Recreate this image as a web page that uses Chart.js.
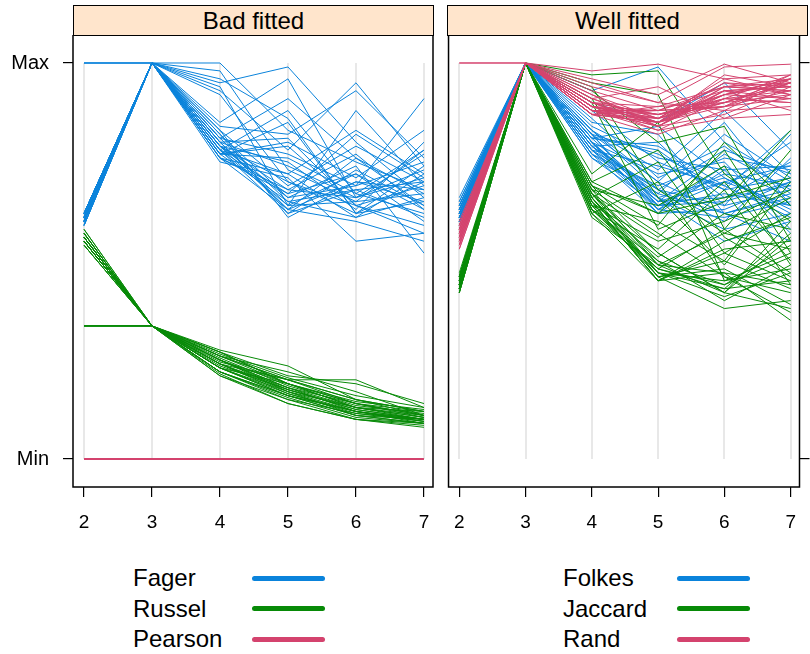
<!DOCTYPE html>
<html>
<head>
<meta charset="utf-8">
<script src="https://cdn.jsdelivr.net/npm/chart.js@4/dist/chart.umd.min.js"></script>
<style>
  html, body { margin: 0; padding: 0; background: #fff; }
  body { width: 810px; height: 654px; position: relative; overflow: hidden; font-family: "Liberation Sans", Arial, sans-serif; }
  .strip { position: absolute; top: 5px; width: 359px; height: 29px; background: #ffe5cc; border: 1.5px solid #000; text-align: center; font-size: 24px; line-height: 30px; color: #000; }
  .panel { position: absolute; top: 35px; }
  .key { position: absolute; font-size: 24px; line-height: 24px; color: #000; }
  .swatch { position: absolute; height: 5px; width: 73px; border-radius: 3px; }
</style>
</head>
<body>
<div class="strip" style="left:73px">Bad fitted</div>
<div class="strip" style="left:447px">Well fitted</div>
<div class="panel" style="left:0px"><canvas id="chartBad" width="445" height="515"></canvas></div>
<div class="panel" style="left:440px"><canvas id="chartWell" width="370" height="515"></canvas></div>
<div id="legend"></div>

<script>
// Parallel coordinates: scaled index value per number of clusters (2..7)
const clusterCounts = [2, 3, 4, 5, 6, 7];
const yTickValues = [0, 1];
const yTickLabels = ['Min', 'Max'];

const fager = [
  [1, 1, 1, 0.83, 0.75, 0.68],
  [1, 1, 0.98, 0.73, 0.65, 0.78],
  [1, 1, 0.96, 0.86, 0.62, 0.70],
  [0.62, 1, 0.95, 0.99, 0.80, 0.66],
  [0.61, 1, 0.94, 0.64, 0.72, 0.60],
  [0.60, 1, 0.93, 0.78, 0.95, 0.74],
  [0.62, 1, 0.92, 0.70, 0.64, 0.57],
  [0.59, 1, 0.85, 0.96, 0.66, 0.71],
  [0.61, 1, 0.84, 0.82, 0.93, 0.76],
  [0.60, 1, 0.82, 0.66, 0.69, 0.91],
  [0.62, 1, 0.81, 0.91, 0.76, 0.64],
  [0.61, 1, 0.80, 0.64, 0.88, 0.69],
  [0.60, 1, 0.79, 0.75, 0.63, 0.80],
  [0.59, 1, 0.79, 0.63, 0.70, 0.68],
  [0.62, 1, 0.78, 0.88, 0.67, 0.62],
  [0.61, 1, 0.78, 0.72, 0.83, 0.72],
  [0.60, 1, 0.77, 0.65, 0.61, 0.66],
  [0.61, 1, 0.77, 0.80, 0.71, 0.83],
  [0.62, 1, 0.76, 0.68, 0.77, 0.63],
  [0.60, 1, 0.76, 0.63, 0.60, 0.55],
  [0.59, 1, 0.80, 0.74, 0.66, 0.73],
  [0.61, 1, 0.78, 0.62, 0.68, 0.61],
  [0.60, 1, 0.83, 0.69, 0.79, 0.70],
  [0.62, 1, 0.77, 0.85, 0.62, 0.65],
  [0.61, 1, 0.79, 0.66, 0.74, 0.52],
  [0.60, 1, 0.75, 0.71, 0.55, 0.57],
  [0.59, 1, 0.81, 0.77, 0.69, 0.75],
  [0.61, 1, 0.78, 0.64, 0.65, 0.67],
  [0.62, 1, 0.76, 0.67, 0.82, 0.71],
  [0.60, 1, 0.80, 0.81, 0.64, 0.69],
  [0.61, 1, 0.82, 0.62, 0.73, 0.64],
  [0.60, 1, 0.77, 0.76, 0.67, 0.78],
  [0.61, 1, 0.79, 0.70, 0.62, 0.74],
  [0.60, 1, 0.78, 0.67, 0.72, 0.63],
  [0.62, 1, 0.81, 0.65, 0.68, 0.70],
  [0.61, 1, 0.77, 0.79, 0.64, 0.59],
  [0.59, 1, 0.80, 0.63, 0.76, 0.67],
  [0.60, 1, 0.76, 0.72, 0.61, 0.72],
  [0.62, 1, 0.83, 0.61, 0.70, 0.65],
  [0.61, 1, 0.79, 0.68, 0.66, 0.77]
];

const russel = [
  [0.336, 0.336, 0.27, 0.19, 0.14, 0.11],
  [0.336, 0.336, 0.25, 0.17, 0.12, 0.10],
  [0.336, 0.336, 0.23, 0.16, 0.11, 0.09],
  [0.336, 0.336, 0.26, 0.20, 0.15, 0.12],
  [0.336, 0.336, 0.24, 0.175, 0.125, 0.10],
  [0.58, 0.336, 0.275, 0.235, 0.15, 0.12],
  [0.57, 0.336, 0.27, 0.21, 0.19, 0.14],
  [0.57, 0.336, 0.26, 0.20, 0.20, 0.13],
  [0.56, 0.336, 0.26, 0.22, 0.17, 0.11],
  [0.56, 0.336, 0.25, 0.19, 0.13, 0.10],
  [0.56, 0.336, 0.25, 0.18, 0.14, 0.12],
  [0.55, 0.336, 0.24, 0.18, 0.12, 0.09],
  [0.55, 0.336, 0.24, 0.17, 0.13, 0.11],
  [0.55, 0.336, 0.23, 0.17, 0.11, 0.10],
  [0.56, 0.336, 0.23, 0.16, 0.12, 0.095],
  [0.55, 0.336, 0.22, 0.16, 0.11, 0.09],
  [0.54, 0.336, 0.22, 0.15, 0.10, 0.085],
  [0.55, 0.336, 0.215, 0.14, 0.10, 0.08],
  [0.54, 0.336, 0.21, 0.14, 0.10, 0.09],
  [0.56, 0.336, 0.245, 0.20, 0.14, 0.105],
  [0.55, 0.336, 0.235, 0.175, 0.125, 0.10],
  [0.57, 0.336, 0.255, 0.185, 0.135, 0.115],
  [0.56, 0.336, 0.24, 0.165, 0.115, 0.10],
  [0.54, 0.336, 0.22, 0.155, 0.105, 0.09],
  [0.55, 0.336, 0.23, 0.19, 0.13, 0.12],
  [0.56, 0.336, 0.265, 0.205, 0.16, 0.13],
  [0.55, 0.336, 0.21, 0.15, 0.115, 0.095],
  [0.57, 0.336, 0.25, 0.175, 0.13, 0.105],
  [0.56, 0.336, 0.24, 0.20, 0.15, 0.11],
  [0.55, 0.336, 0.22, 0.16, 0.12, 0.10],
  [0.58, 0.336, 0.27, 0.19, 0.145, 0.125],
  [0.56, 0.336, 0.25, 0.18, 0.13, 0.105],
  [0.55, 0.336, 0.23, 0.165, 0.12, 0.095],
  [0.57, 0.336, 0.26, 0.19, 0.14, 0.11]
];

const pearson = [
  [0, 0, 0, 0, 0, 0]
];

const folkes = [
  [0.66, 1, 0.93, 0.99, 0.80, 0.70],
  [0.65, 1, 0.90, 0.85, 0.95, 0.78],
  [0.64, 1, 0.88, 0.75, 0.68, 0.83],
  [0.64, 1, 0.85, 0.82, 0.62, 0.66],
  [0.63, 1, 0.83, 0.68, 0.78, 0.72],
  [0.63, 1, 0.82, 0.70, 0.85, 0.64],
  [0.62, 1, 0.82, 0.64, 0.72, 0.69],
  [0.62, 1, 0.81, 0.78, 0.66, 0.75],
  [0.62, 1, 0.81, 0.66, 0.58, 0.62],
  [0.61, 1, 0.80, 0.72, 0.75, 0.58],
  [0.61, 1, 0.80, 0.65, 0.70, 0.74],
  [0.61, 1, 0.79, 0.80, 0.64, 0.68],
  [0.60, 1, 0.79, 0.67, 0.82, 0.71],
  [0.60, 1, 0.78, 0.63, 0.61, 0.65],
  [0.60, 1, 0.78, 0.74, 0.69, 0.80],
  [0.59, 1, 0.77, 0.66, 0.55, 0.60],
  [0.62, 1, 0.77, 0.69, 0.76, 0.73],
  [0.63, 1, 0.76, 0.64, 0.67, 0.64],
  [0.61, 1, 0.84, 0.76, 0.73, 0.57],
  [0.60, 1, 0.80, 0.62, 0.63, 0.70],
  [0.64, 1, 0.86, 0.71, 0.79, 0.67],
  [0.62, 1, 0.79, 0.68, 0.60, 0.76],
  [0.61, 1, 0.81, 0.84, 0.71, 0.62],
  [0.63, 1, 0.78, 0.65, 0.66, 0.69],
  [0.60, 1, 0.83, 0.73, 0.88, 0.72],
  [0.65, 1, 0.76, 0.67, 0.62, 0.55],
  [0.61, 1, 0.80, 0.63, 0.74, 0.66],
  [0.62, 1, 0.82, 0.77, 0.68, 0.71],
  [0.63, 1, 0.80, 0.66, 0.71, 0.63],
  [0.61, 1, 0.79, 0.64, 0.65, 0.70],
  [0.62, 1, 0.83, 0.70, 0.62, 0.67],
  [0.60, 1, 0.77, 0.62, 0.73, 0.74],
  [0.64, 1, 0.81, 0.79, 0.69, 0.61],
  [0.62, 1, 0.80, 0.65, 0.77, 0.68],
  [0.61, 1, 0.78, 0.68, 0.64, 0.82],
  [0.63, 1, 0.82, 0.63, 0.70, 0.64]
];

const jaccard = [
  [0.47, 1, 0.97, 0.98, 0.72, 0.60],
  [0.46, 1, 0.95, 0.92, 0.58, 0.78],
  [0.46, 1, 0.93, 0.80, 0.84, 0.55],
  [0.45, 1, 0.91, 0.66, 0.49, 0.70],
  [0.45, 1, 0.90, 0.58, 0.65, 0.83],
  [0.44, 1, 0.72, 0.85, 0.45, 0.48],
  [0.44, 1, 0.70, 0.62, 0.78, 0.52],
  [0.44, 1, 0.69, 0.52, 0.42, 0.38],
  [0.43, 1, 0.68, 0.49, 0.57, 0.66],
  [0.43, 1, 0.67, 0.47, 0.43, 0.45],
  [0.43, 1, 0.67, 0.56, 0.70, 0.50],
  [0.42, 1, 0.66, 0.46, 0.38, 0.40],
  [0.45, 1, 0.66, 0.75, 0.52, 0.62],
  [0.44, 1, 0.65, 0.45, 0.47, 0.35],
  [0.46, 1, 0.65, 0.51, 0.62, 0.58],
  [0.43, 1, 0.64, 0.48, 0.44, 0.54],
  [0.44, 1, 0.64, 0.60, 0.50, 0.73],
  [0.45, 1, 0.63, 0.47, 0.41, 0.47],
  [0.42, 1, 0.63, 0.53, 0.68, 0.44],
  [0.43, 1, 0.62, 0.45, 0.55, 0.61],
  [0.44, 1, 0.62, 0.70, 0.46, 0.42],
  [0.46, 1, 0.61, 0.49, 0.42, 0.56],
  [0.45, 1, 0.68, 0.64, 0.74, 0.49],
  [0.43, 1, 0.66, 0.46, 0.48, 0.39],
  [0.44, 1, 0.64, 0.55, 0.60, 0.68],
  [0.42, 1, 0.67, 0.50, 0.44, 0.51],
  [0.45, 1, 0.65, 0.45, 0.52, 0.45],
  [0.44, 1, 0.69, 0.59, 0.80, 0.64],
  [0.43, 1, 0.63, 0.48, 0.43, 0.57],
  [0.46, 1, 0.70, 0.78, 0.56, 0.46],
  [0.44, 1, 0.66, 0.47, 0.45, 0.52],
  [0.43, 1, 0.64, 0.46, 0.50, 0.43],
  [0.45, 1, 0.67, 0.52, 0.42, 0.60],
  [0.42, 1, 0.62, 0.48, 0.58, 0.47],
  [0.46, 1, 0.68, 0.57, 0.46, 0.37],
  [0.44, 1, 0.65, 0.45, 0.53, 0.55],
  [0.43, 1, 0.63, 0.50, 0.40, 0.49],
  [0.45, 1, 0.69, 0.62, 0.66, 0.71],
  [0.44, 1, 0.66, 0.49, 0.47, 0.44],
  [0.46, 1, 0.94, 0.68, 0.57, 0.53]
];

const rand = [
  [1, 1, 0.98, 0.997, 0.96, 0.92],
  [1, 1, 0.96, 0.92, 0.997, 0.95],
  [0.60, 1, 0.95, 0.90, 0.99, 0.997],
  [0.59, 1, 0.93, 0.88, 0.94, 0.96],
  [0.58, 1, 0.92, 0.86, 0.91, 0.97],
  [0.57, 1, 0.91, 0.85, 0.93, 0.94],
  [0.59, 1, 0.90, 0.87, 0.89, 0.93],
  [0.56, 1, 0.90, 0.84, 0.92, 0.95],
  [0.58, 1, 0.89, 0.86, 0.95, 0.92],
  [0.55, 1, 0.89, 0.85, 0.90, 0.96],
  [0.57, 1, 0.89, 0.88, 0.93, 0.91],
  [0.56, 1, 0.88, 0.84, 0.87, 0.94],
  [0.54, 1, 0.88, 0.86, 0.96, 0.97],
  [0.58, 1, 0.88, 0.83, 0.91, 0.90],
  [0.55, 1, 0.87, 0.85, 0.89, 0.95],
  [0.57, 1, 0.87, 0.89, 0.94, 0.93],
  [0.53, 1, 0.87, 0.82, 0.88, 0.89],
  [0.56, 1, 0.90, 0.87, 0.92, 0.96],
  [0.59, 1, 0.91, 0.94, 0.86, 0.92],
  [0.55, 1, 0.88, 0.84, 0.93, 0.88],
  [0.57, 1, 0.89, 0.86, 0.90, 0.95],
  [0.54, 1, 0.90, 0.85, 0.97, 0.94],
  [0.58, 1, 0.87, 0.88, 0.89, 0.97],
  [0.56, 1, 0.92, 0.84, 0.94, 0.93],
  [0.55, 1, 0.88, 0.87, 0.91, 0.90],
  [0.57, 1, 0.94, 0.90, 0.88, 0.96],
  [0.53, 1, 0.89, 0.83, 0.86, 0.87],
  [0.58, 1, 0.91, 0.86, 0.95, 0.94],
  [0.56, 1, 0.87, 0.85, 0.92, 0.91],
  [0.54, 1, 0.90, 0.89, 0.90, 0.95],
  [0.57, 1, 0.88, 0.85, 0.91, 0.93],
  [0.55, 1, 0.89, 0.87, 0.90, 0.92],
  [0.58, 1, 0.90, 0.84, 0.93, 0.94],
  [0.56, 1, 0.87, 0.86, 0.92, 0.96],
  [0.54, 1, 0.88, 0.88, 0.89, 0.91],
  [0.59, 1, 0.89, 0.85, 0.94, 0.95]
];

const BLUE = '#0a83db';
const GREEN = '#078a07';
const PINK = '#d4436e';
const FONT = '"Liberation Sans", Arial, sans-serif';

// one dataset per observation line
function lines(rows, color, order, width) {
  return rows.map(row => ({
    data: row.map((v, i) => ({ x: clusterCounts[i], y: v })),
    borderColor: color,
    borderWidth: width || 1,
    pointRadius: 0,
    tension: 0,
    order: order
  }));
}

// panel box and light vertical reference lines
const panelDecor = {
  id: 'panelDecor',
  beforeDatasetsDraw(chart) {
    const { ctx, scales } = chart;
    const x = scales.x;
    const y = scales.y;
    ctx.save();
    ctx.strokeStyle = '#e8e8e8';
    ctx.lineWidth = 2;
    clusterCounts.forEach(k => {
      const px = Math.round(x.getPixelForValue(k));
      ctx.beginPath();
      ctx.moveTo(px, y.getPixelForValue(1));
      ctx.lineTo(px, y.getPixelForValue(0));
      ctx.stroke();
    });
    ctx.restore();
  },
  afterDraw(chart) {
    const { ctx, chartArea: a } = chart;
    ctx.save();
    ctx.strokeStyle = '#000';
    ctx.lineWidth = 1.5;
    ctx.strokeRect(a.left, a.top, a.right - a.left, a.bottom - a.top);
    ctx.restore();
  }
};

function xScale() {
  return {
    type: 'linear',
    position: 'bottom',
    min: 1.838,
    max: 7.133,
    afterBuildTicks: s => { s.ticks = clusterCounts.map(v => ({ value: v })); },
    afterFit: s => { s.height = 63; },
    grid: { drawOnChartArea: false, drawTicks: true, tickLength: 10, color: '#000', lineWidth: 1.2 },
    border: { display: false },
    ticks: { color: '#000', font: { family: FONT, size: 19 }, padding: 14, maxRotation: 0 }
  };
}

function yScale(side, showLabels, width) {
  return {
    type: 'linear',
    position: side,
    min: -0.0707,
    max: 1.0707,
    afterBuildTicks: s => { s.ticks = yTickValues.map(v => ({ value: v })); },
    // ticks sit well inside the range, so no extra room is needed above or below
    afterFit: s => { s.width = width; s.paddingTop = 0; s.paddingBottom = 0; },
    grid: { drawOnChartArea: false, drawTicks: true, tickLength: 10, color: '#000', lineWidth: 1.2 },
    border: { display: false },
    ticks: {
      display: showLabels,
      color: '#000',
      font: { family: FONT, size: 20 },
      padding: 14,
      callback: v => yTickLabels[yTickValues.indexOf(v)]
    }
  };
}

function makePanel(id, datasets, scales, padding) {
  return new Chart(document.getElementById(id), {
    type: 'line',
    data: { datasets: datasets },
    options: {
      responsive: false,
      animation: false,
      devicePixelRatio: 1,
      layout: { padding: padding },
      plugins: { legend: { display: false }, tooltip: { enabled: false } },
      scales: scales
    },
    plugins: [panelDecor]
  });
}

makePanel('chartBad',
  [].concat(lines(fager, BLUE, 3), lines(russel, GREEN, 2), lines(pearson, PINK, 1, 2)),
  { x: xScale(), y: yScale('left', true, 73) },
  { left: 0, right: 12, top: 0, bottom: 0 });

makePanel('chartWell',
  [].concat(lines(folkes, BLUE, 3), lines(jaccard, GREEN, 2), lines(rand, PINK, 1)),
  { x: xScale(), y: yScale('right', false, 3) },
  { left: 7, right: 0, top: 0, bottom: 0 });

// legend keys below each panel
const legendLeft = ['Fager', 'Russel', 'Pearson'];
const legendRight = ['Folkes', 'Jaccard', 'Rand'];
const legendColors = [BLUE, GREEN, PINK];
const legend = document.getElementById('legend');
function addKeys(names, textX, lineX) {
  names.forEach((name, i) => {
    const cy = 578 + i * 30.5;
    const t = document.createElement('div');
    t.className = 'key';
    t.style.left = textX + 'px';
    t.style.top = (cy - 12) + 'px';
    t.textContent = name;
    legend.appendChild(t);
    const s = document.createElement('div');
    s.className = 'swatch';
    s.style.left = lineX + 'px';
    s.style.top = (cy - 2.5) + 'px';
    s.style.background = legendColors[i];
    legend.appendChild(s);
  });
}
addKeys(legendLeft, 133, 252);
addKeys(legendRight, 563, 677);
</script>
</body>
</html>
